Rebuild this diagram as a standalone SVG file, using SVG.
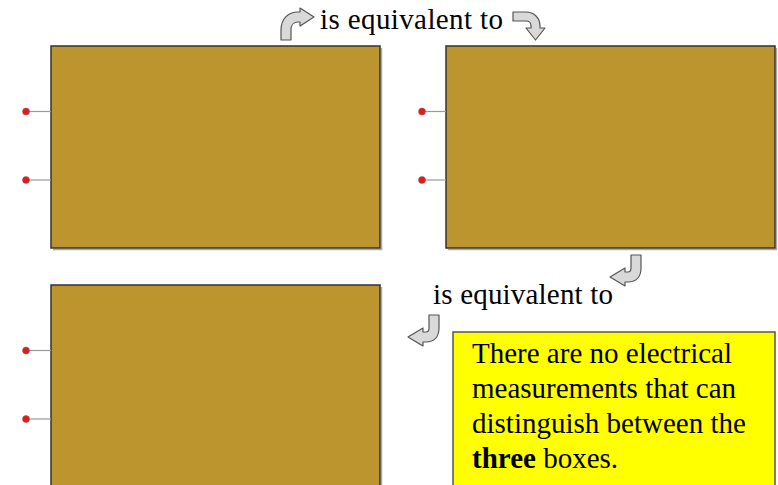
<svg xmlns="http://www.w3.org/2000/svg" width="778" height="485" viewBox="0 0 778 485">
<defs>
<style>
.box{fill:#bc952f;stroke:#333;stroke-width:1.5}
.shadow{fill:none;stroke:#aaa;stroke-width:1.5}
.pin{stroke:#999;stroke-width:1.2}
.dot{fill:#d42020;stroke:#c04040;stroke-width:0.5}
.arr{fill:#d9d9d9;stroke:#555;stroke-width:1.2;stroke-linejoin:round}
text{font-family:'Liberation Serif',Tinos,'Times New Roman','DejaVu Serif',serif;font-size:29px;fill:#000}
</style>
<path id="arrDL" class="arr" d="M631,255 L641,255 L641,268 C641,277 636,282 628,282 L625,282 L625,286 L610,277 L625,268 L625,272 L628,272 C630,272 631,271 631,268 Z"/>
</defs>
<rect width="778" height="485" fill="#fff"/>
<g id="box1">
<path class="shadow" d="M381.5,48 V249.5 H53"/>
<rect class="box" x="51" y="46" width="329" height="202"/>
<line class="pin" x1="26" y1="111.5" x2="51" y2="111.5"/>
<line class="pin" x1="26" y1="180" x2="51" y2="180"/>
<circle class="dot" cx="26" cy="111.5" r="3.5"/>
<circle class="dot" cx="26" cy="180" r="3.5"/>
</g>
<g id="box2">
<path class="shadow" d="M776.5,48 V249.5 H448"/>
<rect class="box" x="446" y="46" width="329" height="202"/>
<line class="pin" x1="422" y1="111.5" x2="446" y2="111.5"/>
<line class="pin" x1="422" y1="180" x2="446" y2="180"/>
<circle class="dot" cx="422" cy="111.5" r="3.5"/>
<circle class="dot" cx="422" cy="180" r="3.5"/>
</g>
<g id="box3">
<path class="shadow" d="M381.5,287 V490"/>
<rect class="box" x="51" y="285" width="329" height="210"/>
<line class="pin" x1="26" y1="350.5" x2="51" y2="350.5"/>
<line class="pin" x1="26" y1="419" x2="51" y2="419"/>
<circle class="dot" cx="26" cy="350.5" r="3.5"/>
<circle class="dot" cx="26" cy="419" r="3.5"/>
</g>
<g id="connectors">
<path class="arr" d="M281,40 L281,30 C281,19 288,12 298,12 L300,12 L300,8 L314,17 L300,26 L300,22 L298,22 C294,22 291,25 291,30 L291,40 Z"/>
<path class="arr" d="M513,12 L526,12 C534,12 540,18 540,26 L540,28 L545,28 L535.5,40 L526,28 L531,28 L531,26 C531,23 529,21 526,21 L513,21 Z"/>
<use href="#arrDL"/>
<use href="#arrDL" transform="translate(-202,60)"/>
</g>
<g id="label1"><text x="320" y="29" textLength="183">is equivalent to</text></g>
<g id="label2"><text x="433" y="304" textLength="180">is equivalent to</text></g>
<g id="note">
<rect x="453" y="332" width="322" height="160" fill="#ffff00" stroke="#555" stroke-width="1.5"/>
<text x="472" y="363">There are no electrical</text>
<text x="472" y="398">measurements that can</text>
<text x="472" y="433">distinguish between the</text>
<text x="472" y="468"><tspan font-weight="bold">three</tspan> boxes.</text>
</g>
</svg>
